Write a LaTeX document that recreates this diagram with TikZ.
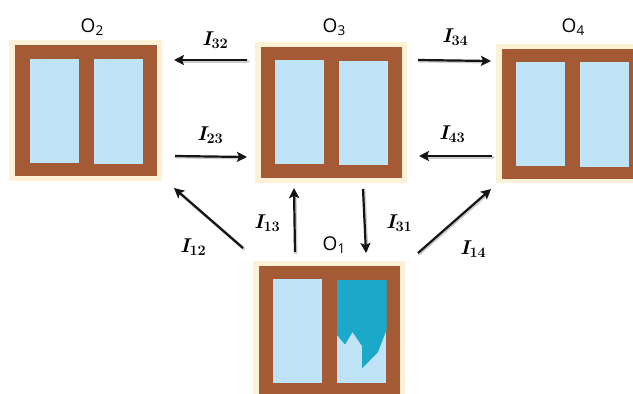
\documentclass[tikz,border=0pt]{standalone}
\usepackage{fontspec}
\usetikzlibrary{arrows.meta}
\newfontfamily\labelfont{Open Sans}
\definecolor{glow}{HTML}{FDF1D6}
\definecolor{frame}{HTML}{A35A35}
\definecolor{pane}{HTML}{BFE4F8}
\definecolor{broken}{HTML}{1BA9C9}
\tikzset{
  x=1pt,y=-1pt,
  glowbox/.style={fill=glow,draw=none},
  framebox/.style={fill=frame,draw=none},
  panebox/.style={fill=pane,draw=none},
  flow/.style={-{Stealth[length=10pt,width=10pt,inset=2pt]},line width=2.2pt,black!92},
  flowshadow/.style={line width=3pt,black!20,line cap=round},
  objlabel/.style={font=\labelfont\fontsize{19}{20}\selectfont,inner sep=0pt},
  flowlabel/.style={font=\fontsize{20}{22}\selectfont,inner sep=0pt}
}
\newcommand{\Obj}[1]{O\raisebox{-2.5pt}{\fontsize{13.5}{14}\selectfont #1}}
\newcommand{\FlowText}[1]{{\bfseries\itshape I}\raisebox{-3.5pt}{\fontsize{14.5}{15}\selectfont\bfseries #1}}
\newcommand{\windowshape}[6]{%
  \fill[glowbox] (#1,#2) rectangle (#3,#4);
  \fill[framebox] (#1+6,#2+5) rectangle (#5,#6);
}
\begin{document}
\begin{tikzpicture}
\useasboundingbox (0,0) rectangle (633,394);
\fill[white] (0,0) rectangle (633,394);

% O2
\windowshape{9}{40}{162}{181}{157}{176}
\fill[panebox] (30,59) rectangle (79,163);
\fill[panebox] (94,59) rectangle (143,164);
% O3
\windowshape{255}{42}{407}{183}{402}{178}
\fill[panebox] (275,60) rectangle (324,164);
\fill[panebox] (339,61) rectangle (388,165);
% O4
\windowshape{496}{44}{633}{183}{633}{179}
\fill[panebox] (516,62) rectangle (565,166);
\fill[panebox] (580,62) rectangle (629,167);
% O1
\windowshape{253}{261}{405}{394}{400}{394}
\fill[panebox] (273,279) rectangle (322,383);
\fill[panebox] (337,280) rectangle (386,383);
\fill[broken] (337,280) -- (386.5,280) -- (386.5,330) -- (378,352) -- (362,368.5)
  -- (362,346) -- (352.5,332) -- (345,344.5) -- (337,335) -- cycle;

% labels
\node[objlabel] (o2) at (92,27) {\Obj{2}};
\node[objlabel] (o3) at (334,27) {\Obj{3}};
\node[objlabel] (o4) at (573,27) {\Obj{4}};
\node[objlabel] (o1) at (334,245) {\Obj{1}};

\node[flowlabel] (l32) at (215,40) {\FlowText{32}};
\node[flowlabel] (l23) at (210,135) {\FlowText{23}};
\node[flowlabel] (l34) at (455,37) {\FlowText{34}};
\node[flowlabel] (l43) at (452,134) {\FlowText{43}};
\node[flowlabel] (l12) at (193,247) {\FlowText{12}};
\node[flowlabel] (l13) at (267,223) {\FlowText{13}};
\node[flowlabel] (l31) at (399,223) {\FlowText{31}};
\node[flowlabel] (l14) at (473,249) {\FlowText{14}};

% connector ends
\coordinate (a32s) at (247,60);  \coordinate (a32e) at (174,60);
\coordinate (a23s) at (175,156); \coordinate (a23e) at (247,157);
\coordinate (a34s) at (418,60);  \coordinate (a34e) at (491,61);
\coordinate (a43s) at (492,156); \coordinate (a43e) at (419,156);
\coordinate (a12s) at (243,248); \coordinate (a12e) at (174,188);
\coordinate (a13s) at (295,252); \coordinate (a13e) at (294,188);
\coordinate (a31s) at (363,189); \coordinate (a31e) at (366,253);
\coordinate (a14s) at (418,253); \coordinate (a14e) at (491,189);

\foreach \s/\e in {a32s/a32e,a23s/a23e,a34s/a34e,a43s/a43e,a12s/a12e,a13s/a13e,a31s/a31e,a14s/a14e}{
  \draw[flowshadow,shorten >=4pt,transform canvas={xshift=1pt,yshift=-1pt}] (\s) -- (\e);
  \draw[flow] (\s) -- (\e);
}
\end{tikzpicture}
\end{document}
